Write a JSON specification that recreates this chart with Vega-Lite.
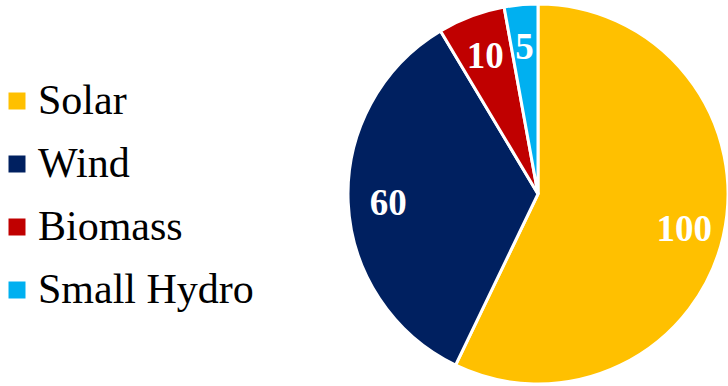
{
  "$schema": "https://vega.github.io/schema/vega-lite/v6.json",
  "autosize": {"type": "none"},
  "padding": {"left": 348, "top": 3, "right": 0, "bottom": 0},
  "width": 380,
  "height": 382,
  "background": "white",
  "data": {"values": [
    {"source": "Solar", "value": 100},
    {"source": "Wind", "value": 60},
    {"source": "Biomass", "value": 10},
    {"source": "Small Hydro", "value": 5}
  ]},
  "encoding": {
    "theta": {"field": "value", "type": "quantitative", "stack": true},
    "order": {"field": "value", "type": "quantitative", "sort": "descending"}
  },
  "layer": [
    {
      "mark": {"type": "arc", "outerRadius": 190, "stroke": "white", "strokeWidth": 3},
      "encoding": {
        "color": {
          "field": "source", "type": "nominal",
          "scale": {"domain": ["Solar", "Wind", "Biomass", "Small Hydro"], "range": ["#FFC000", "#002060", "#C00000", "#00B0F0"]},
          "legend": {
            "title": null,
            "orient": "none",
            "legendX": -352,
            "legendY": 77,
            "symbolType": "square",
            "symbolSize": 289,
            "symbolStrokeWidth": 0,
            "labelFont": "Liberation Serif",
            "labelFontSize": 42,
            "labelColor": "black",
            "labelOffset": 0,
            "rowPadding": 21,
            "labelLimit": 400
          }
        },
        "strokeDash": {
          "field": "source", "type": "nominal",
          "scale": {"domain": ["Solar", "Wind", "Biomass", "Small Hydro"], "range": [[10, 6], [1, 0], [1, 0], [1, 0]]},
          "legend": null
        }
      }
    },
    {
      "mark": {"type": "text", "radius": 150, "font": "Liberation Serif", "fontWeight": "bold", "fontSize": 37, "color": "white", "baseline": "middle", "align": "center", "dy": 3},
      "encoding": {
        "text": {"field": "value", "type": "quantitative"}
      }
    }
  ]
}
